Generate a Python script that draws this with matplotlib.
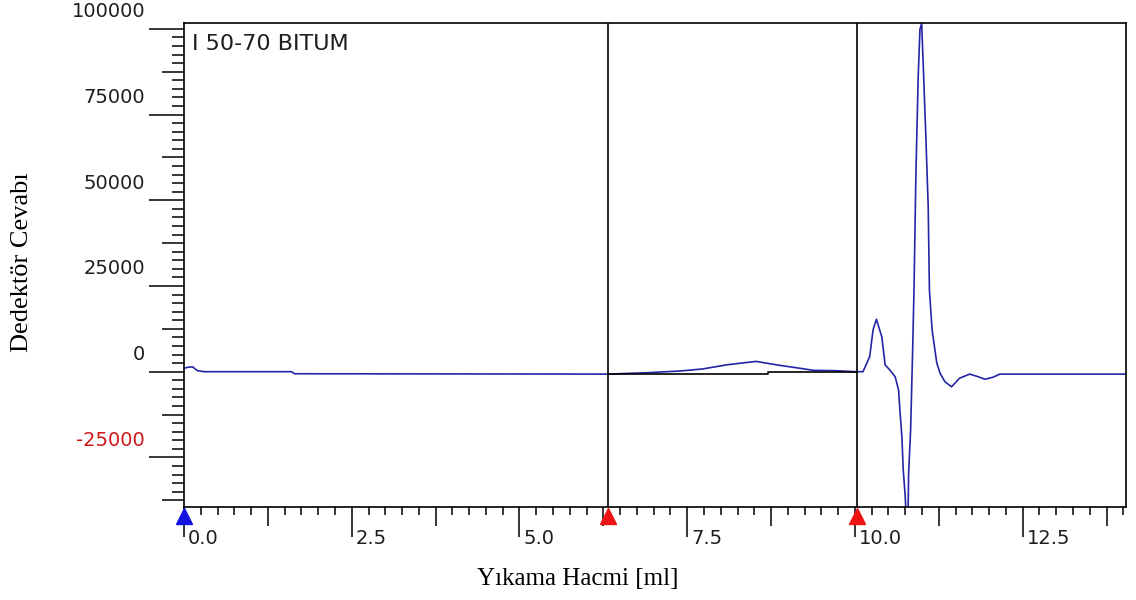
import matplotlib
matplotlib.use('Agg')
import matplotlib.pyplot as plt
from matplotlib.ticker import MultipleLocator, FixedLocator
from matplotlib.transforms import offset_copy
import numpy as np

# chromatogram trace
vol = [0.0, 0.06, 0.13, 0.2, 0.3, 1.6, 1.65, 6.32, 6.9, 7.39, 7.73, 8.09, 8.39,
       8.53, 8.83, 9.18, 9.38, 9.71, 10.0, 10.12, 10.22, 10.27, 10.32, 10.40,
       10.45, 10.52, 10.60, 10.65, 10.67, 10.70, 10.72, 10.75, 10.77, 10.79,
       10.80, 10.83, 10.86, 10.88, 10.909, 10.943, 10.969, 10.994, 11.018,
       11.058, 11.092, 11.11, 11.15, 11.22, 11.27, 11.34, 11.44, 11.56, 11.71,
       11.81, 11.94, 12.06, 12.16, 14.04]
resp = [1000, 1300, 1400, 300, 0, 0, -600, -700, -300, 200, 800, 2000, 2700,
        3000, 2000, 1000, 400, 300, 0, 0, 4400, 12200, 15300, 10200,
        2000, 500, -1500, -5300, -11200, -19000, -28700, -36500, -45000, -45000,
        -29600, -17000, 6300, 23800, 58000, 86100, 99900, 101600, 89500,
        68000, 48100, 23800, 12200, 2500, -500, -2900, -4400, -1900, -700,
        -1300, -2200, -1600, -700, -700]

# integration baseline and peak limits
base_x = [6.32, 8.71, 8.71, 10.03]
base_y = [-700, -700, 0, 0]
limits = [6.32, 10.03]
start_mark = 0.0

yticks = [-25000, 0, 25000, 50000, 75000, 100000]
ytick_labels = ['-25000', '0', '25000', '50000', '75000', '100000']
xticks = [0.0, 2.5, 5.0, 7.5, 10.0, 12.5]
xtick_labels = ['0.0', '2.5', '5.0', '7.5', '10.0', '12.5']

fig = plt.figure(figsize=(11.36, 6), dpi=100)
ax = fig.add_axes([184 / 1136, 1 - 507 / 600, 942 / 1136, 484 / 600])

ax.plot(vol, resp, color='#2424a8', lw=1.2, zorder=2)
ax.plot(base_x, base_y, color='black', lw=1.2, zorder=3)
for v in limits:
    ax.axvline(v, color='black', lw=1.2, zorder=3)

ax.set_xlim(0, 14.04)
ax.set_ylim(-39470, 101720)

for s in ax.spines.values():
    s.set_linewidth(1.2)
    s.set_color('black')

# y ticks: long every 25000, medium every 12500, short every 2500
ax.yaxis.set_major_locator(FixedLocator(np.arange(-37500, 100001, 12500)))
ax.yaxis.set_minor_locator(MultipleLocator(2500))
ax.xaxis.set_major_locator(FixedLocator(np.arange(0, 14.01, 1.25)))
ax.xaxis.set_minor_locator(MultipleLocator(0.25))
ax.tick_params(which='both', direction='out', width=1.1, color='black',
               labelleft=False, labelbottom=False)
ax.tick_params(axis='y', which='minor', length=8.6)
ax.tick_params(axis='x', which='minor', length=6)
for t, v in zip(ax.yaxis.get_major_ticks(), np.arange(-37500, 100001, 12500)):
    t.tick1line.set_markersize(25 if v % 25000 == 0 else 16)
for t, v in zip(ax.xaxis.get_major_ticks(), np.arange(0, 14.01, 1.25)):
    t.tick1line.set_markersize(21.5 if abs(v / 2.5 - round(v / 2.5)) < 1e-6 else 13.5)

ytr = offset_copy(ax.get_yaxis_transform(), fig=fig, x=-39, y=17, units='dots')
for v, lab in zip(yticks, ytick_labels):
    ax.text(0, v, lab, transform=ytr, ha='right', va='center', fontsize=14,
            family='DejaVu Sans', color='#d01818' if v < 0 else '#1e1e1e')
xtr = offset_copy(ax.get_xaxis_transform(), fig=fig, x=4, y=-32, units='dots')
for v, lab in zip(xticks, xtick_labels):
    ax.text(v, 0, lab, transform=xtr, ha='left', va='center', fontsize=14,
            family='DejaVu Sans', color='#1e1e1e')

# markers under the axis
mtr = offset_copy(ax.get_xaxis_transform(), fig=fig, x=0, y=-9, units='dots')
ax.plot([start_mark], [0], marker='^', ms=11, color='#1414e0', ls='none',
        transform=mtr, clip_on=False, zorder=5)
ax.plot(limits, [0, 0], marker='^', ms=11, color='#ee1414', ls='none',
        transform=mtr, clip_on=False, zorder=5)

ax.text((192 - 184) / 942, 1 - (44.5 - 23) / 484, 'I 50-70 BITUM', transform=ax.transAxes,
        ha='left', va='center', fontsize=16, family='DejaVu Sans', color='#1e1e1e')

fig.text(22 / 1136, 1 - 262 / 600, 'Dedektör Cevabı', rotation=90, ha='center',
         va='center', fontsize=19, family='Liberation Serif')
fig.text(578 / 1136, 1 - 579 / 600, 'Yıkama Hacmi [ml]', ha='center', va='center',
         fontsize=18, family='Liberation Serif')

fig.savefig('out.png', dpi=100)
